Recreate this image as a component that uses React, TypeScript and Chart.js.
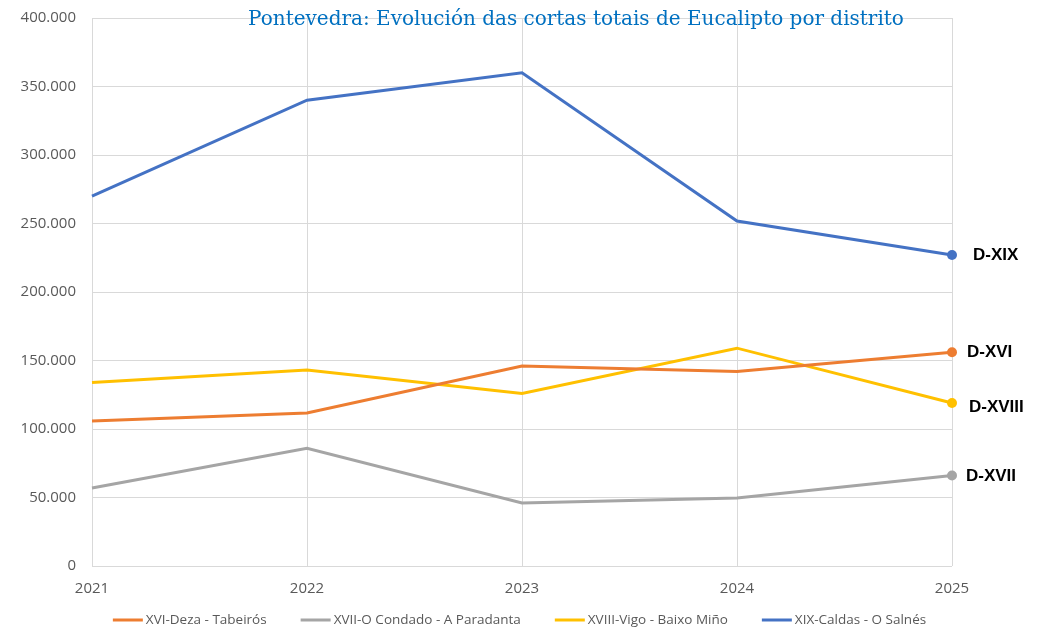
import React, { useEffect, useRef } from 'react';
import { Chart, registerables } from 'chart.js';

Chart.register(...registerables);

const years = ['2021', '2022', '2023', '2024', '2025'];
const seriesNames = ['XVI-Deza - Tabeirós', 'XVII-O Condado - A Paradanta', 'XVIII-Vigo - Baixo Miño', 'XIX-Caldas - O Salnés'];
const dezaTabeiros = [105800, 111700, 146000, 142000, 156000];
const condadoParadanta = [57000, 86000, 46000, 49600, 66000];
const vigoBaixoMino = [134000, 143000, 126000, 159000, 119000];
const caldasSalnes = [270000, 340000, 360000, 251800, 227000];
const endLabels = ['D-XVI', 'D-XVII', 'D-XVIII', 'D-XIX'];
const yTicks = [0, 50000, 100000, 150000, 200000, 250000, 300000, 350000, 400000];
const titleText = 'Pontevedra: Evolución das cortas totais de Eucalipto por distrito';

const colors = ['#ED7D31', '#A5A5A5', '#FFC000', '#4472C4'];
const labelOffsets = [[15, 0], [14, 1], [17, 4], [21, 0]];

const fmt = (v: number) => String(v).replace(/\B(?=(\d{3})+(?!\d))/g, '.');

export default function App() {
  const ref = useRef<HTMLCanvasElement>(null);
  useEffect(() => {
    document.body.style.margin = '0';
    const values = [dezaTabeiros, condadoParadanta, vigoBaixoMino, caldasSalnes];

    const overlay = {
      id: 'overlay',
      afterDraw(chart: any) {
        const ctx = chart.ctx;
        ctx.save();
        // title
        ctx.font = '20px "DejaVu Serif", serif';
        ctx.fillStyle = '#0070C0';
        ctx.textAlign = 'center';
        ctx.textBaseline = 'middle';
        ctx.fillText(titleText, 576, 20);
        // end labels
        ctx.font = 'bold 17px "Liberation Sans", Arial, sans-serif';
        ctx.fillStyle = '#000000';
        ctx.textAlign = 'left';
        chart.data.datasets.forEach((ds: any, i: number) => {
          const meta = chart.getDatasetMeta(i);
          const pt = meta.data[meta.data.length - 1];
          ctx.fillText(endLabels[i], pt.x + labelOffsets[i][0], pt.y + labelOffsets[i][1]);
        });
        // legend
        ctx.font = '13.5px "Open Sans", sans-serif';
        const lineW = 30, gapText = 3, gapItem = 34;
        const items = chart.data.datasets.map((ds: any) => ({
          label: ds.label as string,
          color: ds.borderColor as string,
          w: lineW + gapText + ctx.measureText(ds.label).width,
        }));
        const total = items.reduce((a: number, it: any) => a + it.w, 0) + gapItem * (items.length - 1);
        let x = chart.width / 2 - 2 - total / 2;
        const y = 620;
        items.forEach((it: any) => {
          ctx.strokeStyle = it.color;
          ctx.lineWidth = 3;
          ctx.beginPath();
          ctx.moveTo(x, y);
          ctx.lineTo(x + lineW, y);
          ctx.stroke();
          ctx.fillStyle = '#595959';
          ctx.fillText(it.label, x + lineW + gapText, y);
          x += it.w + gapItem;
        });
        ctx.restore();
      },
    };

    const chart = new Chart(ref.current as HTMLCanvasElement, {
      type: 'line',
      data: {
        labels: years,
        datasets: seriesNames.map((name, i) => ({
          label: name,
          data: values[i],
          borderColor: colors[i],
          backgroundColor: colors[i],
          borderWidth: 3,
          pointRadius: years.map((_, j) => (j === years.length - 1 ? 5 : 0)),
          pointHoverRadius: 0,
          pointBackgroundColor: colors[i],
          pointBorderWidth: 0,
          tension: 0,
        })),
      },
      options: {
        animation: false,
        responsive: false,
        layout: { padding: { left: 0, right: 91, top: 18, bottom: 26 } },
        plugins: {
          title: { display: false },
          tooltip: { enabled: false },
          legend: { display: false },
        },
        scales: {
          x: {
            type: 'category',
            offset: false,
            grid: { color: '#D9D9D9', drawTicks: false },
            border: { display: false },
            ticks: { color: '#595959', padding: 14, font: { family: '"Open Sans", sans-serif', size: 15 }, maxRotation: 0 },
            afterFit: (s: any) => { s.height = 36; s.paddingLeft = 0; s.paddingRight = 0; },
          },
          y: {
            min: 0,
            max: 400000,
            grid: { color: '#D9D9D9', drawTicks: false },
            border: { display: false },
            afterBuildTicks: (s: any) => { s.ticks = yTicks.map((v) => ({ value: v })); },
            ticks: {
              color: '#595959',
              padding: 16,
              font: { family: '"Open Sans", sans-serif', size: 15 },
              callback: (v: any) => fmt(Number(v)),
            },
            afterFit: (s: any) => { s.width = 92; s.paddingTop = 0; s.paddingBottom = 0; },
          },
        },
      },
      plugins: [overlay],
    });
    return () => chart.destroy();
  }, []);
  return (
    <div style={{ width: 1043, height: 628 }}>
      <canvas ref={ref} width={1043} height={628} style={{ display: 'block' }} />
    </div>
  );
}
